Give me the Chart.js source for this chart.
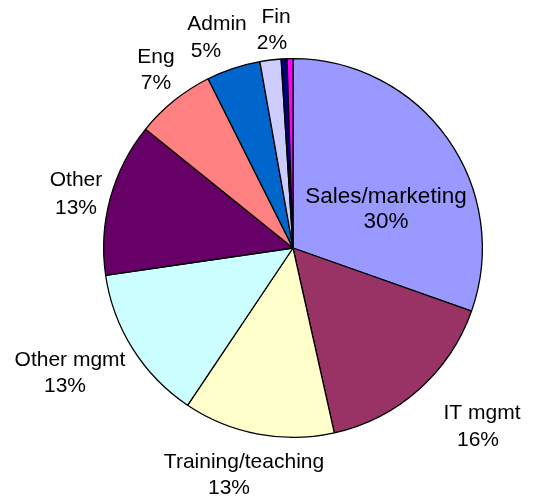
<!DOCTYPE html>
<html>
<head>
<meta charset="utf-8">
<script src="https://cdn.jsdelivr.net/npm/chart.js@4/dist/chart.umd.min.js"></script>
<style>
  html, body { margin: 0; padding: 0; background: #ffffff; }
  #wrap { width: 533px; height: 498px; position: relative; }
</style>
</head>
<body>
<div id="wrap"><canvas id="c" width="533" height="498"></canvas></div>
<script>
// ---- data ----
const categories = ["Sales/marketing", "IT mgmt", "Training/teaching", "Other mgmt", "Other", "Eng", "Admin", "Fin", "", ""];
const shares = [30.4, 16.1, 12.9, 13.3, 13.1, 6.8, 4.6, 1.8, 0.5, 0.5];
const sliceColors = ["#9999FF", "#993366", "#FFFFCC", "#CCFFFF", "#660066", "#FF8080", "#0066CC", "#CCCCFF", "#000080", "#FF00FF"];

// label text placement (offsets of each text line from the pie centre)
const labelLayout = [
  [[93, -51], [93, -26]],
  [[189, 165], [185, 192]],
  [[-49, 214], [-64, 240]],
  [[-223, 112], [-228, 138]],
  [[-217, -68], [-217, -40]],
  [[-137, -191], [-137, -165]],
  [[-76, -224], [-87, -197]],
  [[-17, -231], [-21, -205]],
  null, null
];

const labelPlugin = {
  id: 'sliceLabels',
  afterDatasetsDraw(chart) {
    const ctx = chart.ctx;
    const meta = chart.getDatasetMeta(0);
    const total = shares.reduce((a, b) => a + b, 0);
    ctx.save();
    ctx.fillStyle = '#000000';
    ctx.textAlign = 'center';
    ctx.textBaseline = 'middle';
    meta.data.forEach((arc, i) => {
      const lay = labelLayout[i];
      if (!lay || !categories[i]) return;
      ctx.font = (i === 0 ? '22.5px' : '21px') + ' "Liberation Sans", Arial, sans-serif';
      const pct = Math.round(shares[i] / total * 100) + '%';
      ctx.fillText(categories[i], arc.x + lay[0][0], arc.y + lay[0][1]);
      ctx.fillText(pct, arc.x + lay[1][0], arc.y + lay[1][1]);
    });
    ctx.restore();
  }
};

new Chart(document.getElementById('c'), {
  type: 'pie',
  data: {
    labels: categories,
    datasets: [{
      data: shares,
      backgroundColor: sliceColors,
      borderColor: '#000000',
      borderWidth: 1.3
    }]
  },
  options: {
    responsive: false,
    animation: false,
    layout: { padding: { left: 103, right: 50, top: 58, bottom: 60 } },
    plugins: {
      legend: { display: false },
      tooltip: { enabled: false }
    }
  },
  plugins: [labelPlugin]
});
</script>
</body>
</html>
